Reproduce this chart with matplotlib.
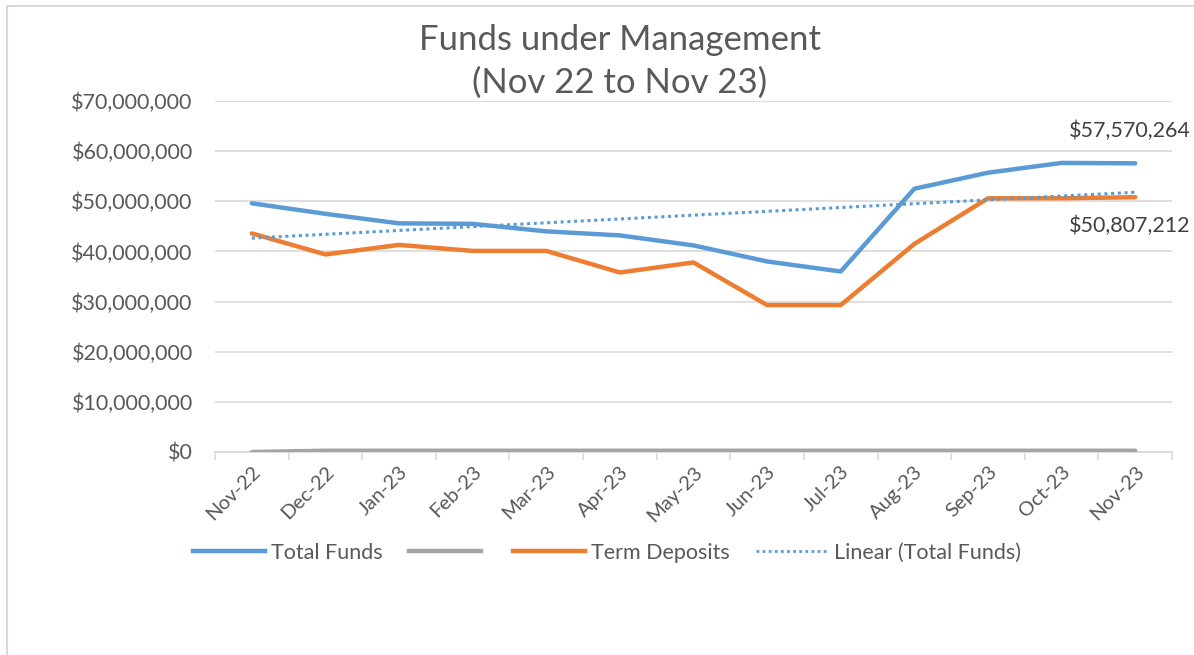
import numpy as np
import matplotlib
matplotlib.use("Agg")
import matplotlib.pyplot as plt
from matplotlib.lines import Line2D
from matplotlib.ticker import FuncFormatter

plt.rcParams['font.family'] = ['Lato', 'DejaVu Sans']

months = ["Nov-22", "Dec-22", "Jan-23", "Feb-23", "Mar-23", "Apr-23", "May-23",
          "Jun-23", "Jul-23", "Aug-23", "Sep-23", "Oct-23", "Nov-23"]
total_funds = [49600000, 47500000, 45600000, 45500000, 44000000, 43200000, 41200000,
               38000000, 36000000, 52500000, 55700000, 57650000, 57570264]
term_deposits = [43600000, 39400000, 41300000, 40100000, 40100000, 35800000, 37800000,
                 29300000, 29300000, 41500000, 50600000, 50600000, 50807212]
other_funds = [0, 250000, 250000, 250000, 250000, 250000, 250000,
               250000, 250000, 250000, 250000, 250000, 250000]

blue = "#5B9BD5"
orange = "#ED7D31"
grey = "#A5A5A5"
txt = "#595959"
grid = "#D9D9D9"

x = np.arange(len(months))
# excel style linear trendline of total funds
k, b = np.polyfit(x, total_funds, 1)
trend = k * x + b

fig = plt.figure(figsize=(11.94, 6.55), dpi=100)
ax = fig.add_axes([215 / 1194, 1 - 452 / 655, (1172 - 215) / 1194, (452 - 101) / 655])

ax.plot(x, total_funds, color=blue, lw=3.2, solid_capstyle='round', zorder=4)
ax.plot(x, other_funds, color=grey, lw=3.2, solid_capstyle='round', zorder=3)
ax.plot(x, term_deposits, color=orange, lw=3.2, solid_capstyle='round', zorder=5)
ax.plot(x, trend, color=blue, lw=2.2, linestyle=(0, (1, 1.2)), zorder=6)

ax.set_xlim(-0.5, len(months) - 0.5)
ax.set_ylim(0, 70000000)
ax.set_yticks(np.arange(0, 70000001, 10000000))
ax.yaxis.set_major_formatter(FuncFormatter(lambda v, p: "${:,.0f}".format(v)))
ax.grid(axis='y', color=grid, lw=1.2)
ax.set_axisbelow(True)

for s in ['top', 'right', 'left']:
    ax.spines[s].set_visible(False)
ax.spines['bottom'].set_color(grid)
ax.spines['bottom'].set_linewidth(1.2)

ax.set_xticks(x)
ax.set_xticklabels(months, rotation=45, ha='right', rotation_mode='anchor')
ax.set_xticks(np.arange(-0.5, len(months)), minor=True)
ax.tick_params(axis='x', which='major', length=0, pad=8, labelsize=14.5, labelcolor=txt)
ax.tick_params(axis='x', which='minor', length=6, color=grid, width=1.2)
ax.tick_params(axis='y', length=0, pad=16, labelsize=15.5, labelcolor=txt)

ax.annotate("${:,.0f}".format(total_funds[-1]), (x[-1], total_funds[-1]),
            xytext=(-48, 16), textcoords='offset points', fontsize=15.5, color="#404040",
            va='bottom', annotation_clip=False)
ax.annotate("${:,.0f}".format(term_deposits[-1]), (x[-1], term_deposits[-1]),
            xytext=(-48, -13), textcoords='offset points', fontsize=15.5, color="#404040",
            va='top', annotation_clip=False)

fig.text(620 / 1194, 1 - 40 / 655, "Funds under Management", ha='center', va='center',
         fontsize=25, color=txt)
fig.text(620 / 1194, 1 - 83 / 655, "(Nov 22 to Nov 23)", ha='center', va='center',
         fontsize=25, color=txt)

handles = [Line2D([], [], color=blue, lw=3.2),
           Line2D([], [], color=grey, lw=3.2),
           Line2D([], [], color=orange, lw=3.2),
           Line2D([], [], color=blue, lw=2, linestyle=(0, (1, 1.2)))]
labels = ["Total Funds", "", "Term Deposits", "Linear (Total Funds)"]
fig.legend(handles, labels, loc='center', bbox_to_anchor=(607 / 1194, 1 - 553 / 655),
           ncol=4, frameon=False, fontsize=15.5, handlelength=3.35, handletextpad=0.28,
           columnspacing=1.2, labelcolor=txt)

# chart border
fig.add_artist(Line2D([7 / 1194, 7 / 1194], [0, 1 - 6 / 655], color=grid, lw=1.5))
fig.add_artist(Line2D([7 / 1194, 1], [1 - 6 / 655, 1 - 6 / 655], color=grid, lw=1.5))

fig.savefig("out.png", dpi=100, facecolor='white')
